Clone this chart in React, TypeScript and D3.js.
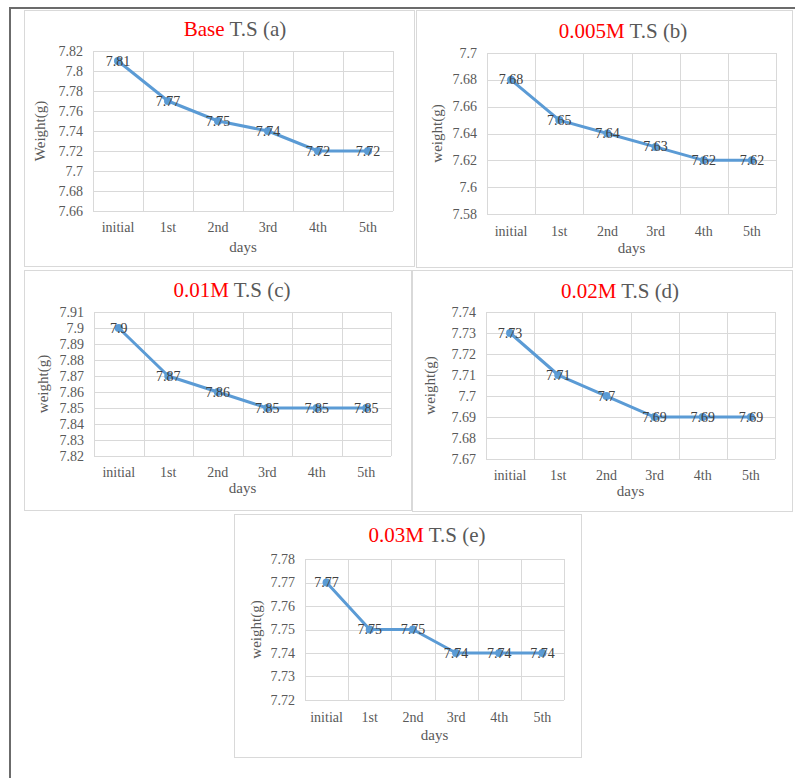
import * as d3 from 'd3'

// categories on the x axis, shared by every panel
const days = ['initial', '1st', '2nd', '3rd', '4th', '5th']

// weights (g)
const baseWeights = [7.81, 7.77, 7.75, 7.74, 7.72, 7.72]
const m005Weights = [7.68, 7.65, 7.64, 7.63, 7.62, 7.62]
const m01Weights = [7.9, 7.87, 7.86, 7.85, 7.85, 7.85]
const m02Weights = [7.73, 7.71, 7.7, 7.69, 7.69, 7.69]
const m03Weights = [7.77, 7.75, 7.75, 7.74, 7.74, 7.74]

// y tick labels per panel
const baseTicks = [7.66, 7.68, 7.7, 7.72, 7.74, 7.76, 7.78, 7.8, 7.82]
const m005Ticks = [7.58, 7.6, 7.62, 7.64, 7.66, 7.68, 7.7]
const m01Ticks = [7.82, 7.83, 7.84, 7.85, 7.86, 7.87, 7.88, 7.89, 7.9, 7.91]
const m02Ticks = [7.67, 7.68, 7.69, 7.7, 7.71, 7.72, 7.73, 7.74]
const m03Ticks = [7.72, 7.73, 7.74, 7.75, 7.76, 7.77, 7.78]

// titles: red part + gray part
const titleRed = ['Base', '0.005M', '0.01M', '0.02M', '0.03M']
const titleRest = ['T.S (a)', 'T.S (b)', 'T.S (c)', 'T.S (d)', 'T.S (e)']
const yTitles = ['Weight(g)', 'weight(g)', 'weight(g)', 'weight(g)', 'weight(g)']

const series = [baseWeights, m005Weights, m01Weights, m02Weights, m03Weights]
const ticks = [baseTicks, m005Ticks, m01Ticks, m02Ticks, m03Ticks]

// layout of each panel (pixels)
const layouts = [
  { box: [24, 10, 414, 266], plot: [93, 51, 393, 211], titleX: 235, titleY: 36, yTitleX: 40, xLabY: 232, daysY: 252 },
  { box: [416, 10, 792, 267], plot: [487, 53, 776, 214], titleX: 623, titleY: 38, yTitleX: 437, xLabY: 236, daysY: 253 },
  { box: [24, 270, 411, 510], plot: [94, 312, 391, 456], titleX: 232, titleY: 297, yTitleX: 43, xLabY: 477, daysY: 493 },
  { box: [412, 270, 792, 511], plot: [486, 312, 775, 459], titleX: 620, titleY: 298, yTitleX: 430, xLabY: 480, daysY: 496 },
  { box: [234, 514, 581, 757], plot: [305, 559, 564, 700], titleX: 427, titleY: 542, yTitleX: 256, xLabY: 722, daysY: 740 },
]

const FONT = '"Liberation Serif", "Times New Roman", serif'
const GRID = '#d9d9d9'
const LINE = '#5b9bd5'
const GRAY = '#595959'

function Panel({ idx }: { idx: number }) {
  const L = layouts[idx]
  const values = series[idx]
  const tk = ticks[idx]
  const [bx0, by0, bx1, by1] = L.box
  const [px0, py0, px1, py1] = L.plot

  const x = d3.scaleBand().domain(days).range([px0, px1]).padding(0)
  const y = d3.scaleLinear().domain([tk[0], tk[tk.length - 1]]).range([py1, py0])
  const cx = (d: string) => (x(d) as number) + x.bandwidth() / 2

  const pts = values.map((v, i) => ({ day: days[i], v }))
  const path = d3.line<{ day: string; v: number }>()
    .x(d => cx(d.day))
    .y(d => y(d.v))(pts) as string

  const fmt = (v: number) => String(+v.toFixed(2))

  return (
    <g>
      <rect x={bx0 + 0.5} y={by0 + 0.5} width={bx1 - bx0} height={by1 - by0} fill="#fff" stroke={GRID} />
      {/* horizontal grid */}
      {tk.map(t => (
        <line key={'h' + t} x1={px0} x2={px1} y1={Math.round(y(t)) + 0.5} y2={Math.round(y(t)) + 0.5} stroke={GRID} />
      ))}
      {/* vertical grid at category boundaries */}
      {days.map(d => (
        <line key={'v' + d} x1={Math.round(x(d) as number) + 0.5} x2={Math.round(x(d) as number) + 0.5} y1={py0} y2={py1} stroke={GRID} />
      ))}
      <line x1={Math.round(px1) + 0.5} x2={Math.round(px1) + 0.5} y1={py0} y2={py1} stroke={GRID} />
      {/* y tick labels */}
      {tk.map(t => (
        <text key={'t' + t} x={px0 - 10} y={y(t)} textAnchor="end" dominantBaseline="central"
          fontFamily={FONT} fontSize={14} fill={GRAY}>{fmt(t)}</text>
      ))}
      {/* x labels */}
      {days.map(d => (
        <text key={'x' + d} x={cx(d)} y={L.xLabY} textAnchor="middle" fontFamily={FONT} fontSize={14} fill={GRAY}>{d}</text>
      ))}
      <text x={(px0 + px1) / 2} y={L.daysY} textAnchor="middle" fontFamily={FONT} fontSize={15} fill={GRAY}>days</text>
      <text transform={`translate(${L.yTitleX},${(py0 + py1) / 2}) rotate(-90)`} textAnchor="middle"
        dominantBaseline="central" fontFamily={FONT} fontSize={15} fill={GRAY}>{yTitles[idx]}</text>
      {/* title */}
      <text x={L.titleX} y={L.titleY} textAnchor="middle" fontFamily={FONT} fontSize={21}>
        <tspan fill="#ff0000">{titleRed[idx]}</tspan>
        <tspan fill={GRAY}>{' ' + titleRest[idx]}</tspan>
      </text>
      {/* series */}
      <path d={path} fill="none" stroke={LINE} strokeWidth={3} strokeLinejoin="round" />
      {pts.map(p => (
        <circle key={'c' + p.day} cx={cx(p.day)} cy={y(p.v)} r={4} fill={LINE} />
      ))}
      {pts.map(p => (
        <text key={'l' + p.day} x={cx(p.day)} y={y(p.v)} textAnchor="middle" dominantBaseline="central"
          fontFamily={FONT} fontSize={14} fill="#404040">{fmt(p.v)}</text>
      ))}
    </g>
  )
}

export default function App() {
  return (
    <svg width={795} height={778} style={{ position: 'fixed', top: 0, left: 0, background: '#fff' }}>
      <rect width={795} height={778} fill="#fff" />
      {layouts.map((_, i) => <Panel key={i} idx={i} />)}
      <path d="M795,8 H10 V778" fill="none" stroke="#6b6b6b" strokeWidth={2} />
    </svg>
  )
}
